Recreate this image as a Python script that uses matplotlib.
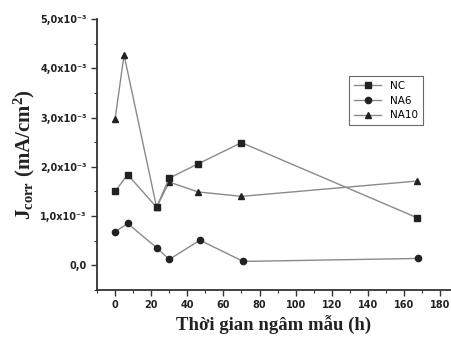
import matplotlib.pyplot as plt
from matplotlib.ticker import MultipleLocator

plt.rcParams['mathtext.fontset'] = 'custom'
plt.rcParams['mathtext.rm'] = 'Liberation Serif:bold'
plt.rcParams['mathtext.it'] = 'Liberation Serif:italic:bold'
plt.rcParams['mathtext.bf'] = 'Liberation Serif:bold'

time_nc = [0, 7, 23, 30, 46, 70, 167]
nc = [1.50, 1.84, 1.18, 1.77, 2.06, 2.49, 0.97]

time_na6 = [0, 7, 23, 30, 47, 71, 168]
na6 = [0.68, 0.85, 0.36, 0.12, 0.51, 0.08, 0.14]

time_na10 = [0, 5, 23, 30, 46, 70, 167]
na10 = [2.96, 4.27, 1.18, 1.69, 1.49, 1.40, 1.71]

ytick_vals = [0, 1, 2, 3, 4, 5]
ytick_labels = ['0,0', '1,0x10⁻³', '2,0x10⁻³', '3,0x10⁻³',
                '4,0x10⁻³', '5,0x10⁻³']

fig = plt.figure(figsize=(4.51, 3.38), dpi=100)
ax = fig.add_axes([0.215, 0.142, 0.785, 0.802])

line_kw = dict(color='#8a8a8a', linewidth=1.0, markeredgecolor='#222222',
               markerfacecolor='#222222', markersize=4.5)
ax.plot(time_nc, nc, marker='s', label='NC', zorder=3, **line_kw)
ax.plot(time_na6, na6, marker='o', label='NA6', zorder=2, **line_kw)
ax.plot(time_na10, na10, marker='^', label='NA10', zorder=2, **line_kw)

ax.set_xlim(-10, 186)
ax.set_ylim(-0.5, 5.0)
ax.set_xticks(range(0, 181, 20))
ax.xaxis.set_minor_locator(MultipleLocator(10))
ax.set_yticks(ytick_vals)
ax.set_yticklabels(ytick_labels)
ax.yaxis.set_minor_locator(MultipleLocator(0.5))

for s in ['top', 'right']:
    ax.spines[s].set_visible(False)
for s in ['left', 'bottom']:
    ax.spines[s].set_linewidth(1.3)
    ax.spines[s].set_color('#333333')

ax.tick_params(axis='both', which='major', labelsize=7, length=4,
               width=1, colors='#333333', labelcolor='#222222')
ax.tick_params(axis='both', which='minor', length=2.5, width=0.8,
               colors='#333333')
for lab in ax.get_xticklabels() + ax.get_yticklabels():
    lab.set_fontweight('bold')

ax.set_xlabel('Thời gian ngâm mẫu (h)', family='Liberation Serif',
              fontsize=13.5, fontweight='bold', color='#222222', labelpad=4)
ax.set_ylabel(r'J$_{\mathrm{corr}}$ (mA/cm$^{\mathrm{2}}$)',
              family='Liberation Serif', fontsize=15, fontweight='bold',
              color='#222222', labelpad=2)

leg = ax.legend(loc='upper right', bbox_to_anchor=(0.935, 0.81),
                fontsize=7.5, frameon=True, fancybox=False, handlelength=2.6,
                borderpad=0.5, labelspacing=0.45)
leg.get_frame().set_edgecolor('#444444')
leg.get_frame().set_linewidth(0.8)

fig.savefig('out.png', dpi=100)
